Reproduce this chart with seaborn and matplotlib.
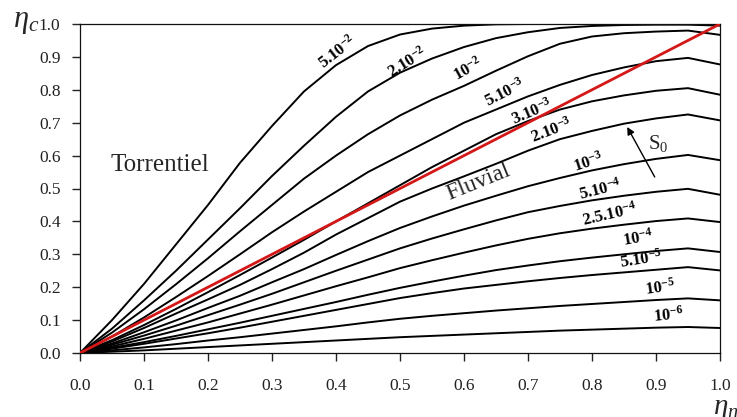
import matplotlib
matplotlib.use("Agg")
import matplotlib.pyplot as plt
import numpy as np
import pandas as pd
import seaborn as sns

# Relative normal depth (x axis)
eta_n = [0.00, 0.05, 0.10, 0.15, 0.20, 0.25, 0.30, 0.35, 0.40, 0.45, 0.50,
         0.55, 0.60, 0.65, 0.70, 0.75, 0.80, 0.85, 0.90, 0.95, 1.00]

# Relative critical depth for each bed slope S0
eta_c_5e_2 = [0, 0.100, 0.210, 0.330, 0.450, 0.578, 0.690, 0.795, 0.875, 0.933, 0.968,
              0.986, 0.995, 0.999, 1.000, 1.000, 1.000, 1.000, 1.000, 1.000, 1.000]
eta_c_2e_2 = [0, 0.074, 0.160, 0.250, 0.345, 0.440, 0.538, 0.630, 0.718, 0.795, 0.852,
              0.895, 0.930, 0.957, 0.975, 0.988, 0.994, 0.997, 0.998, 0.998, 0.995]
eta_c_1e_2 = [0, 0.062, 0.133, 0.209, 0.288, 0.370, 0.450, 0.530, 0.600, 0.665, 0.722,
              0.770, 0.812, 0.858, 0.902, 0.940, 0.962, 0.972, 0.977, 0.980, 0.967]
eta_c_5e_3 = [0, 0.050, 0.108, 0.170, 0.234, 0.300, 0.367, 0.430, 0.490, 0.550, 0.600,
              0.650, 0.700, 0.740, 0.780, 0.815, 0.845, 0.868, 0.887, 0.897, 0.877]
eta_c_3e_3 = [0, 0.039, 0.085, 0.134, 0.185, 0.237, 0.290, 0.344, 0.400, 0.455, 0.510,
              0.565, 0.615, 0.665, 0.705, 0.740, 0.765, 0.783, 0.797, 0.805, 0.785]
eta_c_2e_3 = [0, 0.035, 0.076, 0.120, 0.163, 0.207, 0.255, 0.305, 0.360, 0.410, 0.460,
              0.500, 0.537, 0.575, 0.615, 0.650, 0.675, 0.697, 0.713, 0.725, 0.707]
eta_c_1e_3 = [0, 0.029, 0.063, 0.099, 0.137, 0.174, 0.215, 0.255, 0.298, 0.340, 0.380,
              0.415, 0.448, 0.478, 0.507, 0.532, 0.555, 0.574, 0.590, 0.602, 0.586]
eta_c_5e_4 = [0, 0.025, 0.053, 0.083, 0.115, 0.147, 0.180, 0.215, 0.250, 0.284, 0.318,
              0.348, 0.376, 0.403, 0.428, 0.447, 0.464, 0.478, 0.490, 0.499, 0.481]
eta_c_25e_5 = [0, 0.020, 0.043, 0.068, 0.093, 0.120, 0.147, 0.175, 0.203, 0.230, 0.258,
               0.282, 0.305, 0.327, 0.347, 0.364, 0.378, 0.390, 0.401, 0.409, 0.398]
eta_c_1e_4 = [0, 0.016, 0.033, 0.052, 0.072, 0.092, 0.113, 0.134, 0.155, 0.177, 0.198,
              0.217, 0.235, 0.252, 0.266, 0.279, 0.290, 0.300, 0.310, 0.318, 0.307]
eta_c_5e_5 = [0, 0.013, 0.028, 0.044, 0.060, 0.077, 0.095, 0.113, 0.131, 0.149, 0.167,
              0.182, 0.196, 0.207, 0.218, 0.228, 0.237, 0.245, 0.253, 0.261, 0.251]
eta_c_1e_5 = [0, 0.008, 0.017, 0.027, 0.038, 0.048, 0.059, 0.070, 0.081, 0.093, 0.104,
              0.113, 0.121, 0.129, 0.136, 0.143, 0.149, 0.155, 0.161, 0.166, 0.160]
eta_c_1e_6 = [0, 0.004, 0.008, 0.013, 0.018, 0.023, 0.028, 0.033, 0.038, 0.043, 0.048,
              0.052, 0.056, 0.060, 0.064, 0.068, 0.071, 0.074, 0.077, 0.079, 0.076]

slope_labels = [r"$\mathbf{5.10^{-2}}$", r"$\mathbf{2.10^{-2}}$", r"$\mathbf{10^{-2}}$",
                r"$\mathbf{5.10^{-3}}$", r"$\mathbf{3.10^{-3}}$", r"$\mathbf{2.10^{-3}}$",
                r"$\mathbf{10^{-3}}$", r"$\mathbf{5.10^{-4}}$", r"$\mathbf{2.5.10^{-4}}$",
                r"$\mathbf{10^{-4}}$", r"$\mathbf{5.10^{-5}}$", r"$\mathbf{10^{-5}}$",
                r"$\mathbf{10^{-6}}$"]
slope_curves = [eta_c_5e_2, eta_c_2e_2, eta_c_1e_2, eta_c_5e_3, eta_c_3e_3, eta_c_2e_3,
                eta_c_1e_3, eta_c_5e_4, eta_c_25e_5, eta_c_1e_4, eta_c_5e_5, eta_c_1e_5,
                eta_c_1e_6]

# Critical line eta_c = eta_n
diagonal = [0.0, 1.0]

tick_values = [0.0, 0.1, 0.2, 0.3, 0.4, 0.5, 0.6, 0.7, 0.8, 0.9, 1.0]

# ---- styling ----
sns.set_style("ticks")
plt.rcParams["font.family"] = ["Liberation Serif", "DejaVu Serif"]
plt.rcParams["mathtext.fontset"] = "custom"
plt.rcParams["mathtext.rm"] = "Liberation Serif"
plt.rcParams["mathtext.it"] = "Liberation Serif:italic"
plt.rcParams["mathtext.bf"] = "Liberation Serif:bold"

fig = plt.figure(figsize=(7.37, 4.17), dpi=100)
ax = fig.add_axes([80 / 737, 1 - 353 / 417, 640 / 737, 329 / 417])

frames = [pd.DataFrame({"eta_n": eta_n, "eta_c": vals, "S0": name})
          for name, vals in zip(slope_labels, slope_curves)]
df = pd.concat(frames, ignore_index=True)

sns.lineplot(data=df, x="eta_n", y="eta_c", units="S0", estimator=None,
             color="black", linewidth=1.4, sort=False, ax=ax)
sns.lineplot(x=diagonal, y=diagonal, color="#d41717", linewidth=2.0, ax=ax, zorder=4)

# slope annotations on the curves (x, y, rotation)
label_place = [(0.403, 0.915, 38), (0.511, 0.884, 32), (0.606, 0.862, 29),
               (0.664, 0.790, 27), (0.706, 0.733, 23), (0.737, 0.675, 21),
               (0.794, 0.580, 18), (0.8125, 0.495, 14), (0.827, 0.422, 13),
               (0.872, 0.350, 10), (0.877, 0.283, 9), (0.906, 0.198, 8),
               (0.919, 0.115, 6)]
for text, (lx, ly, rot) in zip(slope_labels, label_place):
    ax.text(lx, ly, text, fontsize=12, rotation=rot, ha="center", va="center",
            rotation_mode="anchor", color="black", zorder=5)

ax.text(0.125, 0.571, "Torrentiel", fontsize=18, ha="center", va="center")
ax.text(0.622, 0.520, "Fluvial", fontsize=17, ha="center", va="center",
        rotation=22, rotation_mode="anchor")
ax.text(0.903, 0.638, r"S$_0$", fontsize=15, ha="center", va="center")
ax.annotate("", xy=(0.855, 0.687), xytext=(0.898, 0.535),
            arrowprops=dict(arrowstyle="-|>", color="black", lw=1.0,
                            mutation_scale=11, shrinkA=0, shrinkB=0))

ax.set_xlim(0, 1)
ax.set_ylim(0, 1)
ax.set_xticks(tick_values)
ax.set_yticks(tick_values)
ax.set_xticklabels([f"{v:.1f}" for v in tick_values])
ax.set_yticklabels([f"{v:.1f}" for v in tick_values])
ax.set_xlabel("")
ax.set_ylabel("")
ax.tick_params(axis="x", direction="out", length=6, width=1, pad=12,
               labelsize=12.5, colors="#222222")
ax.tick_params(axis="y", direction="out", length=6, width=1, pad=8,
               labelsize=12.5, colors="#222222")
for side in ["top", "right", "bottom", "left"]:
    ax.spines[side].set_visible(True)
    ax.spines[side].set_linewidth(0.9)
    ax.spines[side].set_color("#111111")

fig.text(13 / 737, 1 - 22 / 417, r"$\eta_c$", fontsize=22, ha="left", va="center")
fig.text(713 / 737, 1 - 409 / 417, r"$\eta_n$", fontsize=21, ha="left", va="center")

fig.savefig("out.png", dpi=100, facecolor="white")
